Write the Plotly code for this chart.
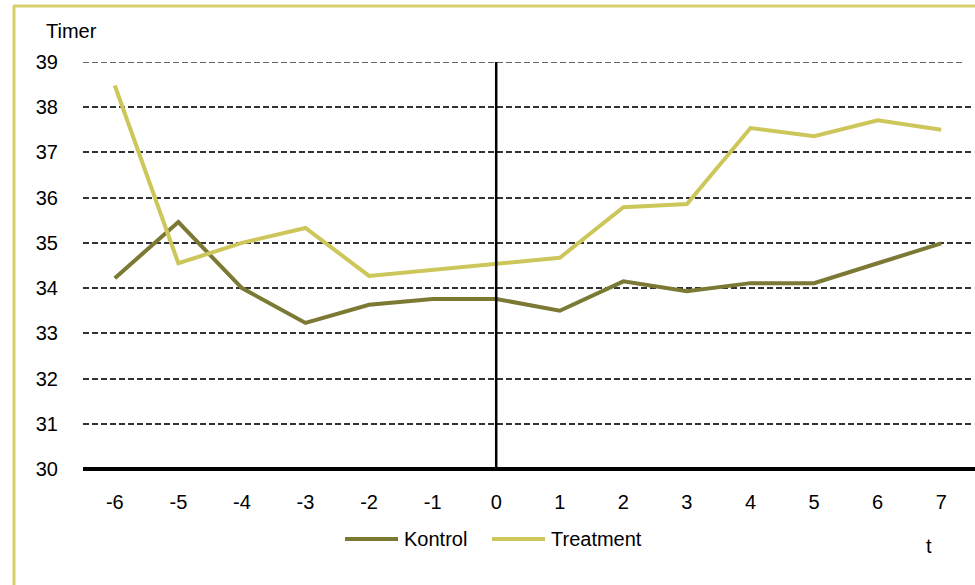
import plotly.graph_objects as go

# Period relative to treatment start
t_values = [-6, -5, -4, -3, -2, -1, 0, 1, 2, 3, 4, 5, 6, 7]

# Average weekly hours ("Timer") per group
kontrol = [34.22, 35.46, 34.00, 33.23, 33.63, 33.76, 33.76, 33.50, 34.15, 33.93, 34.11, 34.11, 34.55, 34.99]
treatment = [38.48, 34.55, 35.00, 35.33, 34.27, 34.41, 34.53, 34.67, 35.79, 35.86, 37.54, 37.36, 37.71, 37.50]

y_ticks = [30, 31, 32, 33, 34, 35, 36, 37, 38, 39]

KONTROL_COLOR = "#7b7934"
TREATMENT_COLOR = "#cdc65a"
FRAME_COLOR = "#d6d06a"
GRID_COLOR = "#333333"
FONT = "Liberation Sans, Arial, sans-serif"
FONT_SIZE = 20

W, H = 975, 585
L, R, T, B = 83, 2, 62, 116
plot_w = W - L - R
plot_h = H - T - B


def px_to_paper_x(px):
    return (px - L) / plot_w


def px_to_paper_y(py):
    return (H - B - py) / plot_h


series = [("Kontrol", kontrol, KONTROL_COLOR), ("Treatment", treatment, TREATMENT_COLOR)]

fig = go.Figure()
for name, values, color in series:
    fig.add_trace(go.Scatter(
        x=t_values, y=values, name=name, mode="lines",
        line=dict(color=color, width=4), showlegend=False,
    ))

shapes = [
    # dashed gridline at the top of the range
    dict(type="line", xref="paper", yref="y", x0=0, x1=0.99, y0=39, y1=39,
         line=dict(color=GRID_COLOR, width=1.6, dash="6px,3px"), layer="below"),
    # treatment start marker at t = 0
    dict(type="line", xref="x", yref="paper", x0=0, x1=0, y0=0, y1=1,
         line=dict(color="black", width=2.5), layer="above"),
    # horizontal base axis at 30
    dict(type="line", xref="paper", yref="paper", x0=0, x1=1.01, y0=0, y1=0,
         line=dict(color="black", width=4), layer="above"),
    # page frame: left and top rules
    dict(type="line", xref="paper", yref="paper",
         x0=px_to_paper_x(14), x1=px_to_paper_x(14),
         y0=px_to_paper_y(6), y1=px_to_paper_y(590),
         line=dict(color=FRAME_COLOR, width=3)),
    dict(type="line", xref="paper", yref="paper",
         x0=px_to_paper_x(13), x1=px_to_paper_x(980),
         y0=px_to_paper_y(6), y1=px_to_paper_y(6),
         line=dict(color=FRAME_COLOR, width=3)),
]

annotations = [
    dict(text="Timer", xref="paper", yref="paper",
         x=px_to_paper_x(44), y=px_to_paper_y(31), xanchor="left", yanchor="middle",
         showarrow=False, font=dict(family=FONT, size=FONT_SIZE, color="black")),
    dict(text="t", xref="paper", yref="paper",
         x=px_to_paper_x(929), y=px_to_paper_y(546), xanchor="center", yanchor="middle",
         showarrow=False, font=dict(family=FONT, size=FONT_SIZE, color="black")),
]

# Legend: a line sample followed by the series name, laid out in a row
legend_y = px_to_paper_y(539)
legend_entries_px = [(345, 398, 402), (492, 545, 549)]
for (name, _, color), (lx0, lx1, tx) in zip(series, legend_entries_px):
    shapes.append(dict(type="line", xref="paper", yref="paper",
                       x0=px_to_paper_x(lx0), x1=px_to_paper_x(lx1),
                       y0=legend_y, y1=legend_y,
                       line=dict(color=color, width=4)))
    annotations.append(dict(text=name, xref="paper", yref="paper",
                            x=px_to_paper_x(tx), y=legend_y,
                            xanchor="left", yanchor="middle", showarrow=False,
                            font=dict(family=FONT, size=FONT_SIZE, color="black")))

fig.update_layout(
    width=W, height=H,
    margin=dict(l=L, r=R, t=T, b=B),
    paper_bgcolor="white", plot_bgcolor="white",
    font=dict(family=FONT, size=FONT_SIZE, color="black"),
    showlegend=False,
    xaxis=dict(
        range=[-6.5, 7.5], tickmode="array", tickvals=t_values,
        ticktext=[str(v) for v in t_values],
        showgrid=False, zeroline=False, showline=False,
        ticks="outside", ticklen=15, tickcolor="rgba(0,0,0,0)",
        tickfont=dict(family=FONT, size=FONT_SIZE, color="black"),
        fixedrange=True,
    ),
    yaxis=dict(
        range=[30, 39], tickmode="array", tickvals=y_ticks,
        showgrid=True, gridcolor=GRID_COLOR, gridwidth=1.6, griddash="6px,3px",
        zeroline=False, showline=False,
        ticks="outside", ticklen=20, tickcolor="rgba(0,0,0,0)",
        tickfont=dict(family=FONT, size=FONT_SIZE, color="black"),
        fixedrange=True,
    ),
    shapes=shapes,
    annotations=annotations,
)

fig.write_html("out.html")
